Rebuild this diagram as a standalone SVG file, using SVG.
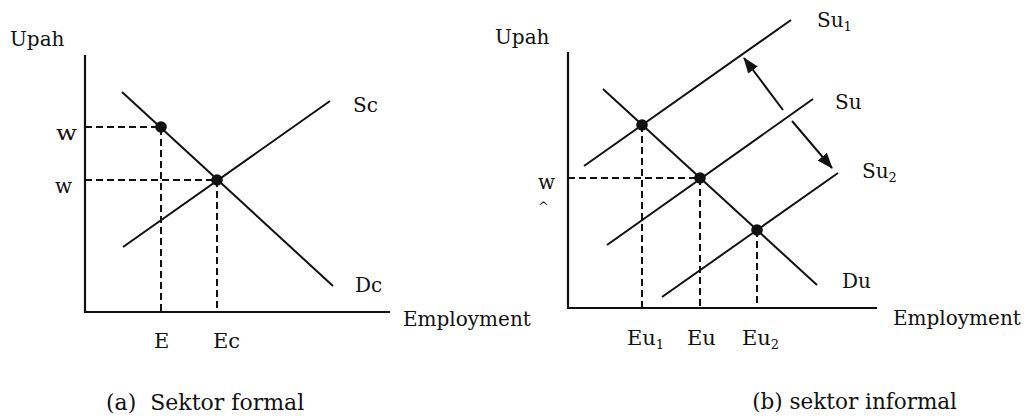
<svg xmlns="http://www.w3.org/2000/svg" width="1028" height="418" viewBox="0 0 1028 418">
<defs>
<style>
.ax{stroke:#111;stroke-width:2.2;fill:none}
.ln{stroke:#111;stroke-width:2;fill:none}
.ds{stroke:#111;stroke-width:2;fill:none;stroke-dasharray:7 4}
.dot{fill:#111}
text{font-family:"DejaVu Serif","Liberation Serif",serif;font-size:20px;fill:#111}
.sm{font-size:13px}
.cap{font-size:21.5px}
</style>
<marker id="ah" viewBox="0 0 16 12" refX="15" refY="6" markerWidth="16" markerHeight="12" markerUnits="userSpaceOnUse" orient="auto">
<path d="M0,0 L16,6 L0,12 Z" fill="#111"/>
</marker>
</defs>
<rect width="1028" height="418" fill="#fff"/>

<g id="panel-a">
<g id="axes-a">
<path class="ax" d="M85,55 V312 H390"/>
</g>
<g id="curves-a">
<line id="Sc" class="ln" x1="123" y1="247" x2="330" y2="101"/>
<line id="Dc" class="ln" x1="122" y1="92" x2="333" y2="286"/>
</g>
<g id="guides-a">
<path class="ds" d="M85,127 H161 V312"/>
<path class="ds" d="M85,180 H217 V312"/>
</g>
<g id="points-a">
<circle class="dot" cx="161" cy="127" r="5.8"/>
<circle class="dot" cx="217" cy="180" r="5.8"/>
</g>
<g id="labels-a">
<text x="10" y="46">Upah</text>
<text x="56" y="140" textLength="21" lengthAdjust="spacingAndGlyphs">w</text>
<text x="55" y="193">w</text>
<text x="353" y="112">Sc</text>
<text x="355" y="292">Dc</text>
<text x="403" y="326">Employment</text>
<text x="154" y="348" style="font-size:21px">E</text>
<text x="213" y="348" style="font-size:21px">Ec</text>
<text x="106" y="410" style="font-size:22px;white-space:pre" xml:space="preserve">(a)  Sektor formal</text>
</g>
</g>

<g id="panel-b">
<g id="axes-b">
<path class="ax" d="M568,52 V308 H877"/>
</g>
<g id="curves-b">
<line id="Su1" class="ln" x1="584" y1="166" x2="791" y2="20"/>
<line id="Su" class="ln" x1="607" y1="245" x2="813" y2="99"/>
<line id="Su2" class="ln" x1="662" y1="297" x2="838" y2="173"/>
<line id="Du" class="ln" x1="603" y1="89" x2="817" y2="285"/>
</g>
<g id="connectors">
<line class="ln" x1="783" y1="110" x2="744" y2="58" marker-end="url(#ah)"/>
<line class="ln" x1="792" y1="121" x2="832" y2="168" marker-end="url(#ah)"/>
</g>
<g id="guides-b">
<path class="ds" d="M568,178 H700"/>
<path class="ds" d="M642,125 V308"/>
<path class="ds" d="M700,178 V308"/>
<path class="ds" d="M757,230 V308"/>
</g>
<g id="points-b">
<circle class="dot" cx="642" cy="125" r="5.8"/>
<circle class="dot" cx="700" cy="178" r="5.8"/>
<circle class="dot" cx="757" cy="230" r="5.8"/>
</g>
<g id="labels-b">
<text x="495" y="44">Upah</text>
<text x="538" y="189">w</text>
<text x="538" y="211" class="sm">^</text>
<text x="817" y="27">Su<tspan class="sm" dy="4">1</tspan></text>
<text x="835" y="109">Su</text>
<text x="862" y="178">Su<tspan class="sm" dy="4">2</tspan></text>
<text x="842" y="288">Du</text>
<text x="893" y="325">Employment</text>
<text x="627" y="345" style="font-size:21px">Eu<tspan class="sm" dy="4">1</tspan></text>
<text x="687" y="345" style="font-size:21px">Eu</text>
<text x="742" y="345" style="font-size:21px">Eu<tspan class="sm" dy="4">2</tspan></text>
<text x="957" y="409" class="cap" text-anchor="end">(b) sektor informal</text>
</g>
</g>
</svg>
